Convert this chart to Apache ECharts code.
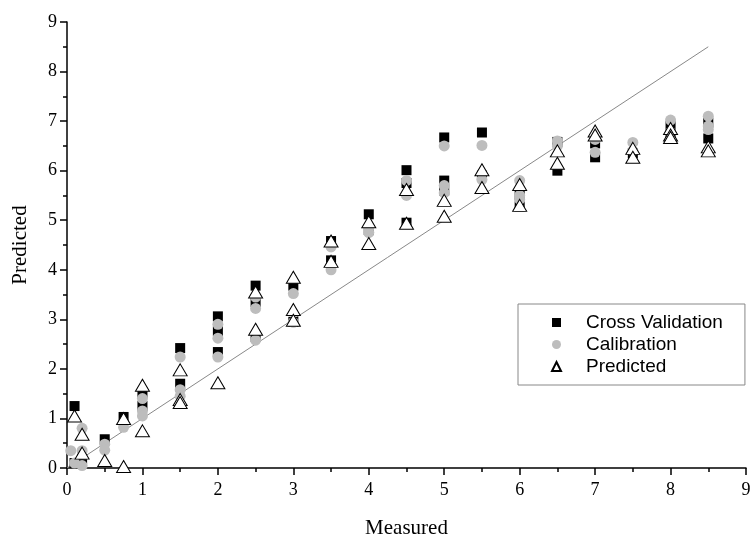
<!DOCTYPE html>
<html style="height: 100%">
<head>
    <meta charset="UTF-8">
    <title>Measured vs Predicted</title>
    <script src="https://cdn.jsdelivr.net/npm/echarts@6/dist/echarts.min.js"></script>
</head>
<body style="height: 100%; margin: 0; background: #fff">
    <div id="main" style="width: 754px; height: 539px"></div>
    <script type="text/javascript">
        // [measured, predicted] pairs
        var crossValidation = [
            [0.1, 1.25], [0.1, 0.1], [0.2, 0.18], [0.5, 0.58], [0.75, 1.03],
            [1, 1.52], [1, 1.25], [1.5, 2.42], [1.5, 1.7], [2, 3.06], [2, 2.76], [2, 2.34],
            [2.5, 3.68], [2.5, 3.35], [2.5, 2.65], [3, 3.68], [3, 2.95], [3.5, 4.58], [3.5, 4.19],
            [4, 5.12], [4, 4.8], [4.5, 6.01], [4.5, 5.75], [4.5, 4.95], [5, 6.67], [5, 5.8], [5, 5.6],
            [5.5, 6.77], [5.5, 5.9], [6, 5.5], [6, 5.28], [6.5, 6.58], [6.5, 6.0], [7, 6.55], [7, 6.27],
            [7.5, 6.35], [8, 6.68], [8, 6.9], [8.5, 6.97], [8.5, 6.65]
        ];
        var calibration = [
            [0.05, 0.35], [0.1, 0.1], [0.2, 0.8], [0.2, 0.35], [0.2, 0.05], [0.5, 0.48], [0.5, 0.36],
            [0.75, 0.82], [1, 1.4], [1, 1.15], [1, 1.05], [1.5, 2.24], [1.5, 1.58], [1.5, 1.45],
            [2, 2.9], [2, 2.62], [2, 2.24], [2.5, 3.22], [2.5, 3.45], [2.5, 2.58], [3, 3.52], [3, 2.94],
            [3.5, 4.46], [3.5, 4.0], [4, 4.75], [4, 4.85], [4.5, 5.8], [4.5, 5.5], [5, 6.5], [5, 5.7],
            [5, 5.55], [5.5, 6.51], [5.5, 5.82], [6, 5.8], [6, 5.5], [6, 5.42], [6.5, 6.6], [6.5, 6.5],
            [7, 6.63], [7, 6.37], [7.5, 6.57], [7.5, 6.4], [8, 7.02], [8, 6.78], [8.5, 7.1], [8.5, 6.83],
            [8.5, 6.9]
        ];
        var predicted = [
            [0.1, 1.05], [0.2, 0.68], [0.2, 0.3], [0.5, 0.15], [0.75, 1.0], [0.75, 0.03], [1, 1.67],
            [1, 0.75], [1.5, 1.98], [1.5, 1.38], [1.5, 1.32], [2, 1.72], [2.5, 3.55], [2.5, 2.8],
            [3, 3.85], [3, 3.2], [3, 2.98], [3.5, 4.58], [3.5, 4.17], [4, 4.97], [4, 4.53], [4.5, 5.62],
            [4.5, 4.94], [5, 5.4], [5, 5.08], [5.5, 6.02], [5.5, 5.66], [6, 5.72], [6, 5.3], [6.5, 6.4],
            [6.5, 6.15], [7, 6.8], [7, 6.72], [7.5, 6.45], [7.5, 6.27], [8, 6.85], [8, 6.72], [8, 6.67],
            [8.5, 6.48], [8.5, 6.4]
        ];
        var idealLine = [[0, 0], [8.5, 8.5]];

        var serif = 'Liberation Serif';
        var axisCommon = {
            type: 'value',
            min: 0,
            max: 9,
            interval: 1,
            minorTick: { show: true, splitNumber: 2, length: 4, lineStyle: { color: '#000', width: 1.5 } },
            axisLine: { show: true, lineStyle: { color: '#000', width: 1.5 } },
            axisTick: { show: true, inside: false, length: 7, lineStyle: { color: '#000', width: 1.5 } },
            splitLine: { show: false },
            axisLabel: { color: '#000', fontFamily: serif, fontSize: 18 },
            nameLocation: 'middle',
            nameTextStyle: { color: '#000', fontFamily: serif, fontSize: 21 }
        };

        var myChart = echarts.init(document.getElementById('main'));
        myChart.setOption({
            animation: false,
            grid: { left: 67, right: 8, top: 22, bottom: 71, outerBoundsMode: 'none' },
            xAxis: Object.assign({}, axisCommon, {
                name: 'Measured', nameGap: 50,
                axisLabel: Object.assign({}, axisCommon.axisLabel, { margin: 13 })
            }),
            yAxis: Object.assign({}, axisCommon, {
                name: 'Predicted', nameGap: 36,
                axisLabel: Object.assign({}, axisCommon.axisLabel, { margin: 10 })
            }),
            legend: {
                orient: 'vertical',
                left: 518,
                top: 304,
                padding: [9, 22, 9, 33],
                itemGap: 3,
                itemWidth: 9,
                itemHeight: 9,
                borderColor: '#888',
                borderWidth: 1,
                textStyle: { fontFamily: 'Liberation Sans', fontSize: 19, color: '#000', padding: [0, 0, 0, 20] },
                data: ['Cross Validation', 'Calibration', 'Predicted']
            },
            series: [
                {
                    name: 'ideal',
                    type: 'line',
                    data: idealLine,
                    showSymbol: false,
                    lineStyle: { color: '#888', width: 1 },
                    z: 1
                },
                {
                    name: 'Cross Validation',
                    type: 'scatter',
                    data: crossValidation,
                    symbol: 'rect',
                    symbolSize: 10,
                    itemStyle: { color: '#000', opacity: 1 },
                    z: 2
                },
                {
                    name: 'Calibration',
                    type: 'scatter',
                    data: calibration,
                    symbol: 'circle',
                    symbolSize: 11,
                    itemStyle: { color: '#bdbdbd', opacity: 1 },
                    z: 3
                },
                {
                    name: 'Predicted',
                    type: 'scatter',
                    data: predicted,
                    symbol: 'triangle',
                    symbolSize: [14, 12],
                    itemStyle: { color: '#fff', borderColor: '#000', borderWidth: 1, opacity: 1 },
                    z: 4
                }
            ]
        });
    </script>
</body>
</html>
